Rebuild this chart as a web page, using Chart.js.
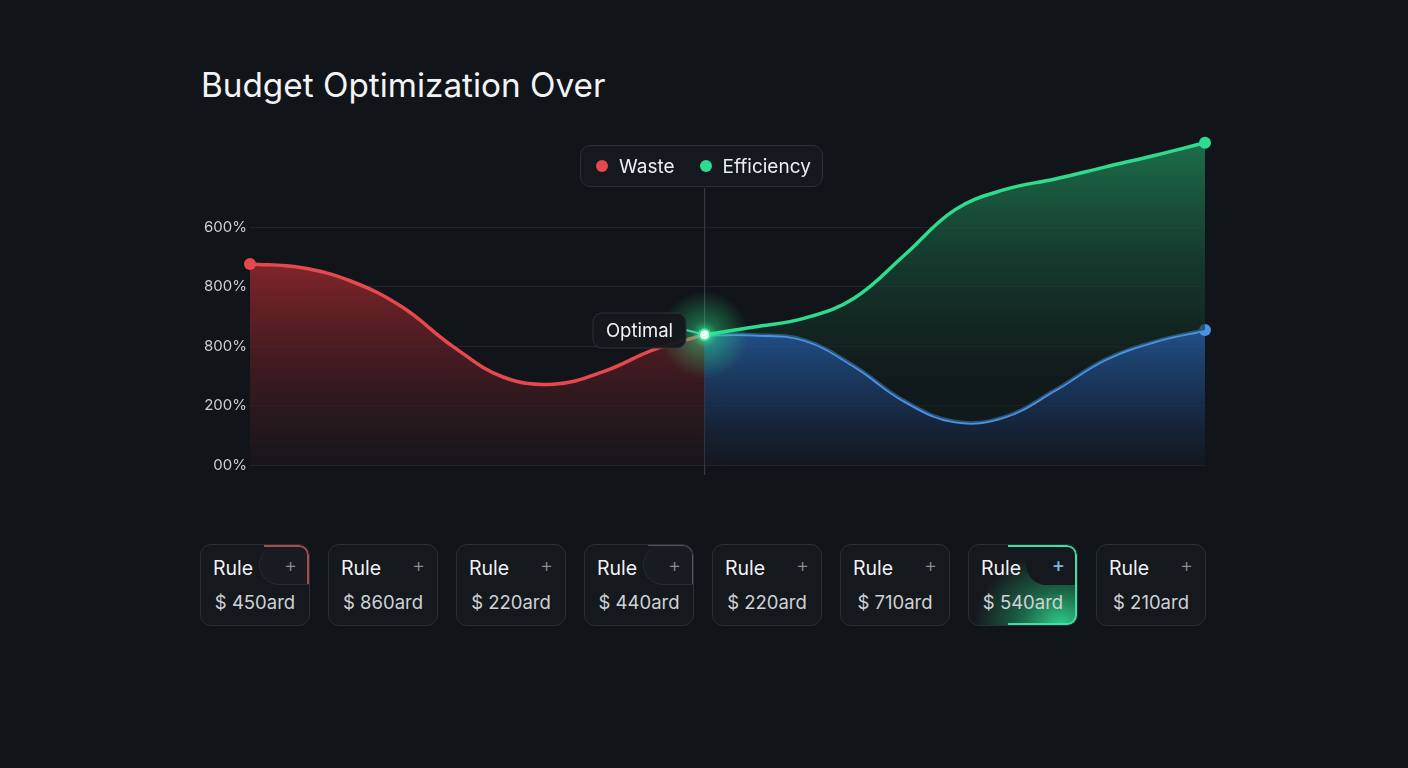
<!DOCTYPE html>
<html>
<head>
<meta charset="utf-8">
<script src="https://cdn.jsdelivr.net/npm/chart.js@4.4.1/dist/chart.umd.min.js"></script>
<style>
  html,body{margin:0;padding:0;}
  body{width:1408px;height:768px;background:#111419;position:relative;overflow:hidden;font-family:Inter,"Noto Sans",sans-serif;}
  #title{position:absolute;left:201px;top:65px;font-size:33.3px;color:#f2f3f5;font-weight:400;}
  #wrap{position:absolute;left:190px;top:120px;width:1025px;height:360px;}
  #legend{position:absolute;left:580px;top:145px;width:241px;height:40px;border:1px solid #2b2f36;border-radius:10px;background:rgba(22,25,30,0.92);display:flex;align-items:center;}
  .li{display:flex;align-items:center;font-size:19px;color:#eceef1;}
  .dot{width:12px;height:12px;border-radius:50%;display:inline-block;margin-right:11px;}
  #cards{position:absolute;left:200px;top:544px;width:1006px;height:82px;display:flex;justify-content:space-between;}
  .card{position:relative;width:110px;height:82px;box-sizing:border-box;border:1px solid #2a2e35;border-radius:11px;background:#15181d;overflow:hidden;}
  .card .r{position:absolute;left:12px;top:11px;font-size:19.5px;color:#f0f1f3;}
  .card .p{position:absolute;right:12px;top:8px;font-size:20px;color:#8a8f97;font-weight:300;}
  .card .v{position:absolute;left:0;right:0;top:46px;text-align:center;font-size:18.5px;color:#cfd2d7;}
  .tab{position:absolute;right:-1px;top:-1px;width:50px;height:40px;border-bottom-left-radius:22px;border-top-left-radius:22px;background:#181b21;}
  .acc{position:absolute;right:0;top:0;box-sizing:border-box;border-top-right-radius:10px;}
</style>
</head>
<body>
<div id="title">Budget Optimization Over</div>
<div id="wrap"><canvas id="c"></canvas></div>
<div id="legend"></div>
<div id="cards"></div>
<script>
// ---- data ----
const wasteX = [0, 5.3, 10.6, 15.9, 21.2, 26.5, 31.8, 37.0, 42.3, 47.6];
const wasteY = [3.38, 3.32, 3.09, 2.66, 2.00, 1.48, 1.36, 1.57, 1.94, 2.19];
const effX = [47.6, 52.8, 58.1, 63.3, 68.6, 73.8, 79.0, 84.3, 89.5, 94.8, 100];
const effY = [2.19, 2.32, 2.47, 2.81, 3.54, 4.29, 4.63, 4.81, 5.01, 5.21, 5.42];
const baseX = [47.6, 52.8, 58.1, 63.3, 68.6, 73.8, 79.0, 84.3, 89.5, 94.8, 100];
const baseY = [2.19, 2.19, 2.10, 1.66, 1.07, 0.73, 0.81, 1.26, 1.77, 2.08, 2.27];
const yTickValues = [0, 1, 2, 3, 4];
const yTickLabels = ['00%', '200%', '800%', '800%', '600%'];
const seriesLabels = ['Waste', 'Efficiency'];
const optimalLabel = 'Optimal';
const ruleNames = ['Rule','Rule','Rule','Rule','Rule','Rule','Rule','Rule'];
const ruleValues = [450, 860, 220, 440, 220, 710, 540, 210];

const RED = '#e5484d', GREEN = '#2ddc8f', BLUE = '#4a92e6';
const pts = (xs, ys) => xs.map((x, i) => ({x, y: ys[i]}));

// legend
const lg = document.getElementById('legend');
[[seriesLabels[0], RED, 15], [seriesLabels[1], GREEN, 25]].forEach(([t, c, ml]) => {
  const d = document.createElement('div'); d.className = 'li'; d.style.marginLeft = ml + 'px';
  d.innerHTML = '<span class="dot" style="background:' + c + '"></span>' + t;
  lg.appendChild(d);
});

// cards
const cw = document.getElementById('cards');
ruleValues.forEach((v, i) => {
  const c = document.createElement('div'); c.className = 'card';
  let extra = '';
  if (i === 0) {
    extra = '<div class="tab" style="border:1px solid #262a31;border-right:none;border-top:none"></div>' +
      '<div class="acc" style="width:45px;height:39px;border-top:2px solid #a84c4c;border-right:2px solid #a84c4c"></div>';
  }
  if (i === 3) {
    extra = '<div class="tab" style="border:1px solid #262a31;border-right:none;border-top:none"></div>' +
      '<div class="acc" style="width:45px;height:39px;border-top:1.5px solid #50555e;border-right:1.5px solid #50555e"></div>';
  }
  if (i === 6) {
    c.style.background = 'radial-gradient(ellipse 95% 110% at 85% 100%, rgba(48,215,140,0.95) 0%, rgba(35,150,100,0.6) 40%, rgba(21,24,29,1) 85%)';
    extra = '<div class="tab" style="background:#15181d;width:52px;height:41px"></div>' +
      '<div class="acc" style="width:69px;height:80px;border-top:2px solid #3fe0a0;border-right:2px solid #3fe0a0;border-bottom:2px solid #3fe0a0;border-bottom-right-radius:10px"></div>';
  }
  c.innerHTML = extra + '<div class="r">' + ruleNames[i] + '</div><div class="p" style="' + (i === 6 ? 'color:#7ab8e0;font-weight:500' : '') + '">+</div><div class="v">$ ' + v + 'ard</div>';
  cw.appendChild(c);
});

function grad(chart, vTop, vBot, stops) {
  const {ctx, scales: {y}} = chart;
  const g = ctx.createLinearGradient(0, y.getPixelForValue(vTop), 0, y.getPixelForValue(vBot));
  stops.forEach(s => g.addColorStop(s[0], s[1]));
  return g;
}

const overlay = {
  id: 'overlay',
  beforeDatasetsDraw(chart) {
    const {ctx, scales: {x, y}} = chart;
    const px = x.getPixelForValue(wasteX[wasteX.length - 1]);
    ctx.save();
    ctx.strokeStyle = '#353a42'; ctx.lineWidth = 1.2;
    ctx.beginPath(); ctx.moveTo(px, 188 - 120); ctx.lineTo(px, y.getPixelForValue(0) + 10); ctx.stroke();
    ctx.restore();
  },
  afterDatasetsDraw(chart) {
    const {ctx, scales: {x, y}} = chart;
    const px = x.getPixelForValue(wasteX[wasteX.length - 1]);
    const py = y.getPixelForValue(wasteY[wasteY.length - 1]);
    ctx.save();
    const g = ctx.createRadialGradient(px, py, 0, px, py, 44);
    g.addColorStop(0, 'rgba(70,255,160,0.85)');
    g.addColorStop(0.3, 'rgba(45,225,135,0.4)');
    g.addColorStop(1, 'rgba(45,220,130,0)');
    ctx.fillStyle = g; ctx.beginPath(); ctx.arc(px, py, 44, 0, Math.PI * 2); ctx.fill();
    const bx = 686 - 190, by = 330 - 120;
    ctx.strokeStyle = '#3ad6b0'; ctx.lineWidth = 2;
    ctx.beginPath(); ctx.moveTo(bx, by); ctx.lineTo(px, py); ctx.stroke();
    const lx = 593 - 190, ly = 313 - 120, lw = 93, lh = 35;
    ctx.fillStyle = 'rgba(21,24,29,0.95)'; ctx.strokeStyle = '#2e323a'; ctx.lineWidth = 1;
    ctx.beginPath(); ctx.roundRect(lx, ly, lw, lh, 9); ctx.fill(); ctx.stroke();
    ctx.fillStyle = '#f0f2f4'; ctx.font = '18.5px Inter, "Noto Sans", sans-serif';
    ctx.textAlign = 'center'; ctx.textBaseline = 'middle';
    ctx.fillText(optimalLabel, lx + lw / 2, ly + lh / 2 + 1);
    ctx.fillStyle = '#3fe89a'; ctx.beginPath(); ctx.arc(px, py, 6.5, 0, Math.PI * 2); ctx.fill();
    ctx.fillStyle = '#eafff4'; ctx.beginPath(); ctx.arc(px, py, 4.5, 0, Math.PI * 2); ctx.fill();
    ctx.restore();
  }
};

const endOnly = (n, which) => Array.from({length: n}, (_, i) => (which === 'first' ? i === 0 : i === n - 1) ? 6 : 0);

new Chart(document.getElementById('c'), {
  type: 'line',
  data: {
    datasets: [
      {
        label: seriesLabels[0], data: pts(wasteX, wasteY), borderColor: RED, borderWidth: 3.5,
        tension: 0.4, fill: 'origin', clip: false,
        backgroundColor: c => c.chart.chartArea ? grad(c.chart, 3.4, 0, [[0, 'rgba(150,40,45,0.85)'], [0.5, 'rgba(85,30,36,0.7)'], [1, 'rgba(30,24,30,0.5)']]) : 'transparent',
        pointRadius: endOnly(wasteX.length, 'first'), pointBackgroundColor: RED, pointBorderWidth: 0, order: 3
      },
      {
        label: seriesLabels[1], data: pts(effX, effY), borderColor: GREEN, borderWidth: 3.5,
        tension: 0.4, fill: 2, clip: false,
        backgroundColor: c => c.chart.chartArea ? grad(c.chart, 5.4, 1.5, [[0, 'rgba(32,125,82,0.85)'], [0.5, 'rgba(24,75,55,0.7)'], [1, 'rgba(18,32,30,0.55)']]) : 'transparent',
        pointRadius: endOnly(effX.length, 'last'), pointBackgroundColor: GREEN, pointBorderWidth: 0, order: 1
      },
      {
        label: 'Baseline', data: pts(baseX, baseY), borderColor: BLUE, borderWidth: 3.5,
        tension: 0.4, fill: 'origin', clip: false,
        backgroundColor: c => c.chart.chartArea ? grad(c.chart, 2.3, 0, [[0, 'rgba(36,88,150,0.9)'], [0.5, 'rgba(28,58,100,0.75)'], [1, 'rgba(22,28,40,0.5)']]) : 'transparent',
        pointRadius: endOnly(baseX.length, 'last'), pointBackgroundColor: BLUE, pointBorderWidth: 0, order: 2
      }
    ]
  },
  options: {
    responsive: true, maintainAspectRatio: false, animation: false,
    layout: {padding: {top: 12, right: 10, bottom: 15, left: 0}},
    plugins: {legend: {display: false}, tooltip: {enabled: false}},
    scales: {
      x: {type: 'linear', min: 0, max: 100, display: false},
      y: {
        min: 0, max: 5.6,
        afterBuildTicks: s => { s.ticks = yTickValues.map(v => ({value: v})); },
        afterFit: s => { s.width = 60; },
        border: {display: false},
        grid: {color: 'rgba(255,255,255,0.07)', lineWidth: 1, drawTicks: false},
        ticks: {
          padding: 3, color: '#cdd0d5', font: {size: 15, family: 'Inter, "Noto Sans", sans-serif'},
          callback: v => yTickLabels[yTickValues.indexOf(v)]
        }
      }
    }
  },
  plugins: [overlay]
});
</script>
</body>
</html>
